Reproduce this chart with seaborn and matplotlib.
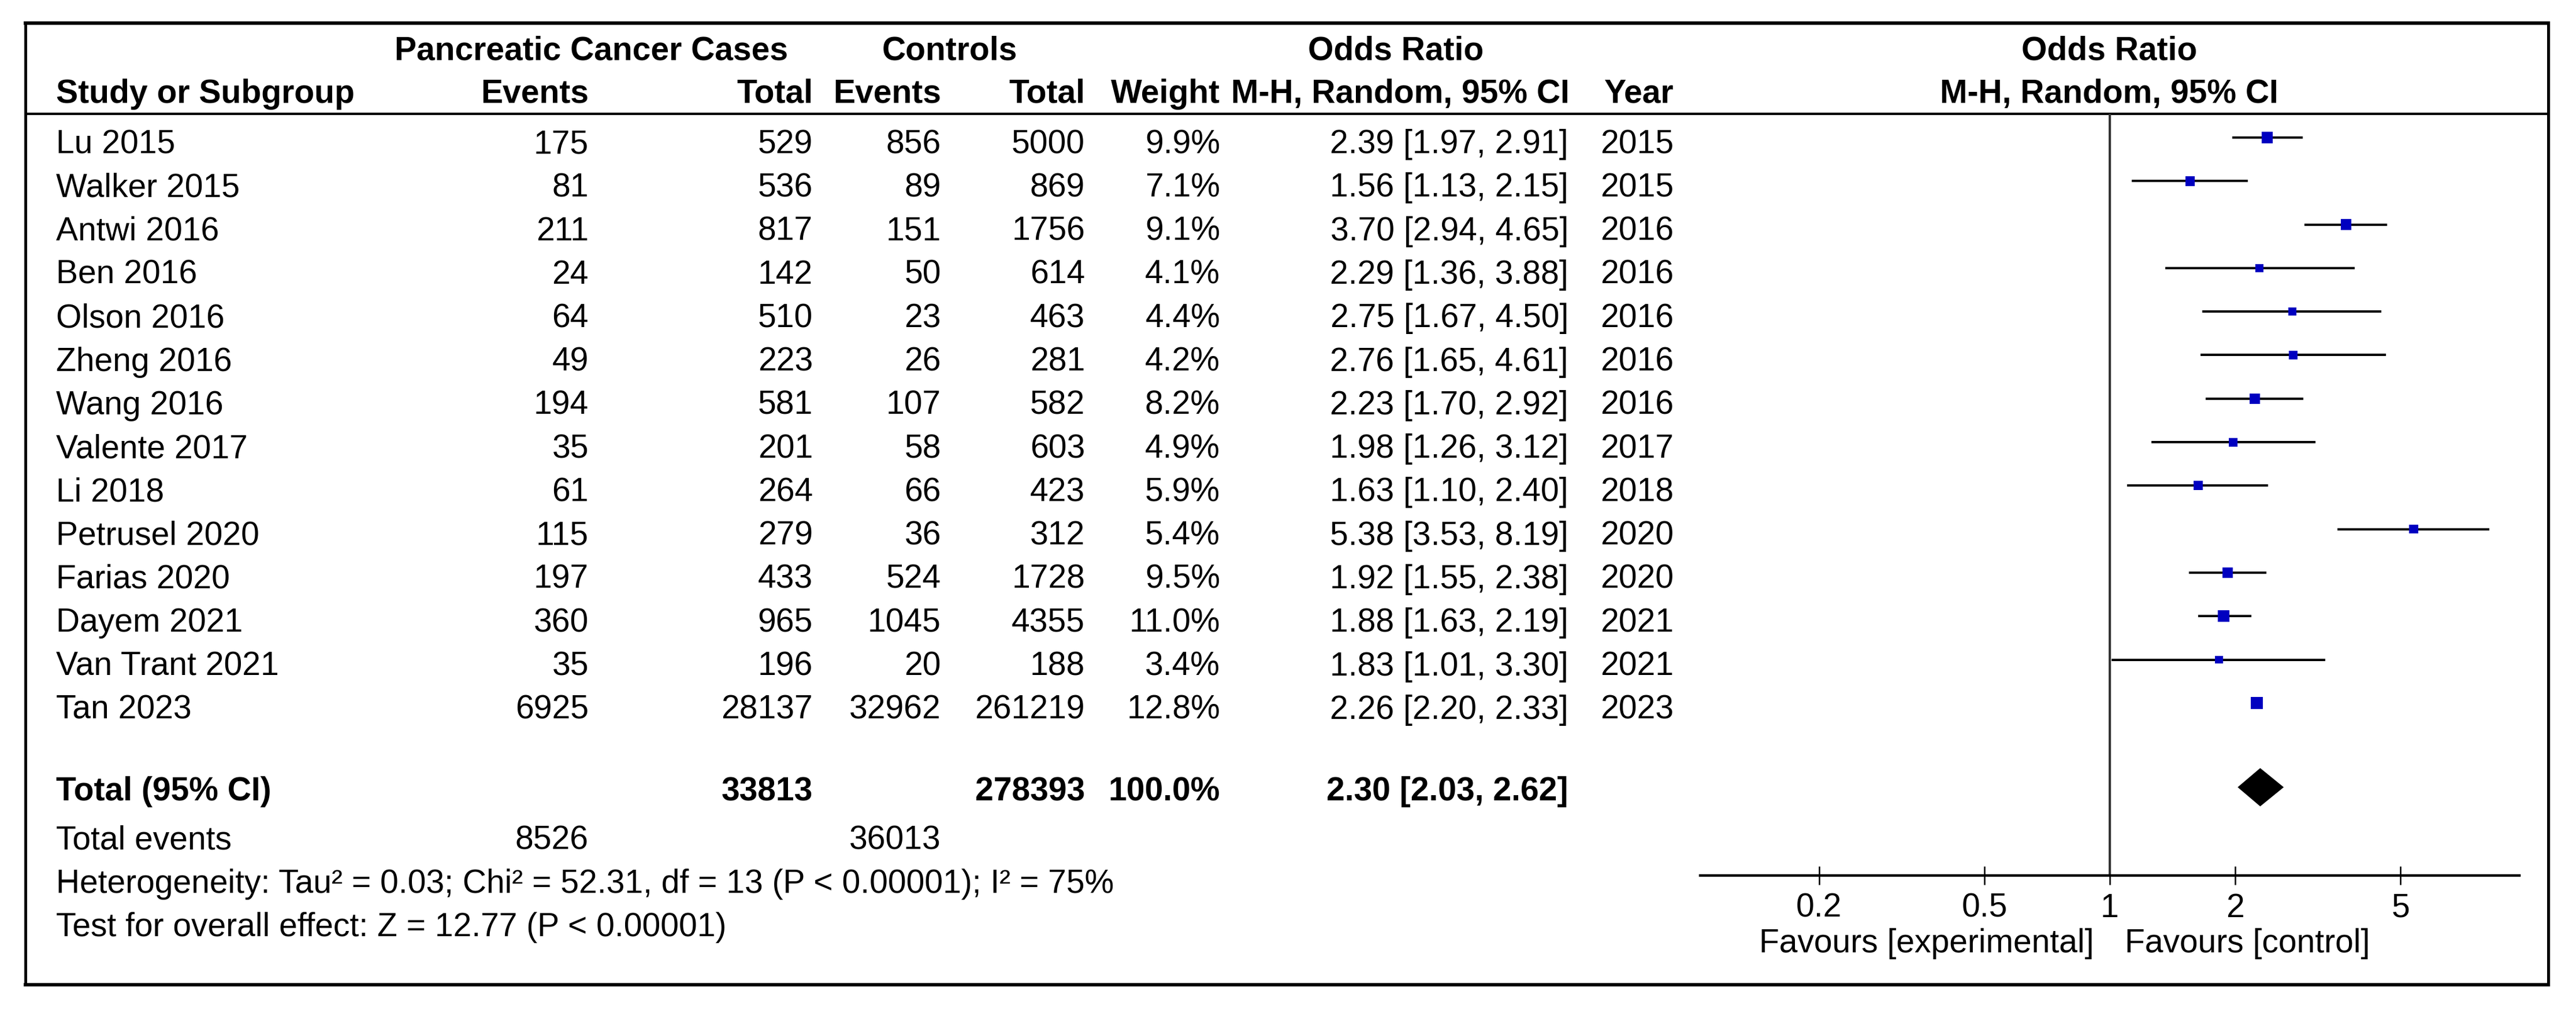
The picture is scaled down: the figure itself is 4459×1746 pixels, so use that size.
import numpy as np
import pandas as pd
import matplotlib
matplotlib.use("Agg")
import matplotlib.pyplot as plt
from matplotlib.ticker import NullLocator
import seaborn as sns

# data
studies = ["Lu 2015", "Walker 2015", "Antwi 2016", "Ben 2016", "Olson 2016", "Zheng 2016",
           "Wang 2016", "Valente 2017", "Li 2018", "Petrusel 2020", "Farias 2020",
           "Dayem 2021", "Van Trant 2021", "Tan 2023"]
case_events = [175, 81, 211, 24, 64, 49, 194, 35, 61, 115, 197, 360, 35, 6925]
case_total = [529, 536, 817, 142, 510, 223, 581, 201, 264, 279, 433, 965, 196, 28137]
ctrl_events = [856, 89, 151, 50, 23, 26, 107, 58, 66, 36, 524, 1045, 20, 32962]
ctrl_total = [5000, 869, 1756, 614, 463, 281, 582, 603, 423, 312, 1728, 4355, 188, 261219]
weight = [9.9, 7.1, 9.1, 4.1, 4.4, 4.2, 8.2, 4.9, 5.9, 5.4, 9.5, 11.0, 3.4, 12.8]
or_est = [2.39, 1.56, 3.70, 2.29, 2.75, 2.76, 2.23, 1.98, 1.63, 5.38, 1.92, 1.88, 1.83, 2.26]
or_lo = [1.97, 1.13, 2.94, 1.36, 1.67, 1.65, 1.70, 1.26, 1.10, 3.53, 1.55, 1.63, 1.01, 2.20]
or_hi = [2.91, 2.15, 4.65, 3.88, 4.50, 4.61, 2.92, 3.12, 2.40, 8.19, 2.38, 2.19, 3.30, 2.33]
years = [2015, 2015, 2016, 2016, 2016, 2016, 2016, 2017, 2018, 2020, 2020, 2021, 2021, 2023]

total_case_events = 8526
total_case_n = 33813
total_ctrl_events = 36013
total_ctrl_n = 278393
total_weight = 100.0
total_or = [2.30, 2.03, 2.62]
tick_vals = [0.2, 0.5, 1, 2, 5]
tick_labels = ["0.2", "0.5", "1", "2", "5"]
heterogeneity = "Heterogeneity: Tau\u00b2 = 0.03; Chi\u00b2 = 52.31, df = 13 (P < 0.00001); I\u00b2 = 75%"
overall = "Test for overall effect: Z = 12.77 (P < 0.00001)"

sns.set_style("white")
plt.rcParams["font.family"] = ["Liberation Sans", "DejaVu Sans"]

W, H = 4459, 1746
FS = 41
fig = plt.figure(figsize=(W / 100, H / 100), dpi=100)

# table layer in pixel coordinates
ax_t = fig.add_axes([0, 0, 1, 1])
ax_t.set_xlim(0, W)
ax_t.set_ylim(H, 0)
ax_t.axis("off")

row0, step = 238, 75.3
base_off = 27

# frame and header rule
L, R, T, B = 44, 4411, 40, 1704
ax_t.plot([L, R], [T, T], color="black", lw=4.3, solid_capstyle="projecting")
ax_t.plot([L, R], [B, B], color="black", lw=4.3, solid_capstyle="projecting")
ax_t.plot([L, L], [T, B], color="black", lw=3.6)
ax_t.plot([R, R], [T, B], color="black", lw=3.6)
ax_t.plot([L, R], [197, 197], color="black", lw=3.0)

# column right edges
x_study = 97
x_cev, x_ctot = 1019, 1407
x_kev, x_ktot = 1629, 1878
x_w, x_or, x_yr = 2112, 2715, 2897
x_plot_mid = 3651


def txt(x, y, s, ha="right", bold=False):
    ax_t.text(x, y, s, ha=ha, va="baseline", fontsize=FS,
              fontweight="bold" if bold else "normal", color="black")


# headers
txt(1024, 103, "Pancreatic Cancer Cases", ha="center", bold=True)
txt(1644, 103, "Controls", ha="center", bold=True)
txt(2416, 103, "Odds Ratio", ha="center", bold=True)
txt(x_plot_mid, 103, "Odds Ratio", ha="center", bold=True)
txt(x_study, 178, "Study or Subgroup", ha="left", bold=True)
txt(x_cev, 178, "Events", bold=True)
txt(x_ctot, 178, "Total", bold=True)
txt(x_kev, 178, "Events", bold=True)
txt(x_ktot, 178, "Total", bold=True)
txt(x_w, 178, "Weight", bold=True)
txt(x_or + 2, 178, "M-H, Random, 95% CI", bold=True)
txt(x_yr, 178, "Year", bold=True)
txt(x_plot_mid, 178, "M-H, Random, 95% CI", ha="center", bold=True)

# study rows
for i, name in enumerate(studies):
    y = row0 + step * i + base_off
    txt(x_study, y, name, ha="left")
    txt(x_cev, y, str(case_events[i]))
    txt(x_ctot, y, str(case_total[i]))
    txt(x_kev, y, str(ctrl_events[i]))
    txt(x_ktot, y, str(ctrl_total[i]))
    txt(x_w, y, f"{weight[i]:.1f}%")
    txt(x_or, y, f"{or_est[i]:.2f} [{or_lo[i]:.2f}, {or_hi[i]:.2f}]")
    txt(x_yr, y, str(years[i]))

# totals
y_tot = 1385
txt(x_study, y_tot, "Total (95% CI)", ha="left", bold=True)
txt(x_ctot, y_tot, str(total_case_n), bold=True)
txt(x_ktot, y_tot, str(total_ctrl_n), bold=True)
txt(x_w, y_tot, f"{total_weight:.1f}%", bold=True)
txt(x_or, y_tot, f"{total_or[0]:.2f} [{total_or[1]:.2f}, {total_or[2]:.2f}]", bold=True)
txt(x_study, 1470, "Total events", ha="left")
txt(x_cev, 1470, str(total_case_events))
txt(x_kev, 1470, str(total_ctrl_events))
txt(x_study, 1545, heterogeneity, ha="left")
txt(x_study, 1620, overall, ha="left")
txt(3625, 1648, "Favours [experimental]")
txt(3678, 1648, "Favours [control]", ha="left")

# forest panel
ax_left, ax_right, ax_top, ax_bot = 2943, 4361, 197, 1515
ax_f = fig.add_axes([ax_left / W, 1 - ax_bot / H, (ax_right - ax_left) / W, (ax_bot - ax_top) / H])
ax_f.set_facecolor("none")

df = pd.DataFrame({"study": studies, "row": np.arange(len(studies)), "or": or_est,
                   "lo": or_lo, "hi": or_hi, "weight": weight})

ax_f.axvline(1, color="#333333", lw=2.9, zorder=1)
ax_f.hlines(df["row"], df["lo"], df["hi"], color="black", lw=2.9, zorder=2)
sns.scatterplot(data=df, x="or", y="row", size="weight", sizes=(95, 230),
                size_norm=(3.4, 12.8), marker="s", color="#0000C0", linewidth=0,
                legend=False, ax=ax_f, zorder=3)

# pooled diamond
y_d = 14.93
ax_f.fill([total_or[1], total_or[0], total_or[2], total_or[0]],
          [y_d, y_d - 0.44, y_d, y_d + 0.44], color="black", lw=0, zorder=3)

ax_f.set_xscale("log")
ax_f.set_xlim(10 ** -0.985, 10 ** 0.985)
ax_f.set_ylim((ax_bot - row0) / step, (ax_top - row0) / step)
ax_f.set_xticks(tick_vals)
ax_f.set_xticklabels(tick_labels)
ax_f.xaxis.set_minor_locator(NullLocator())
ax_f.set_xlabel("")
ax_f.set_ylabel("")
ax_f.set_yticks([])
for side in ["top", "left", "right"]:
    ax_f.spines[side].set_visible(False)
ax_f.spines["bottom"].set_linewidth(3.2)
ax_f.spines["bottom"].set_color("black")
ax_f.tick_params(axis="x", direction="inout", length=23, width=1.8, pad=10,
                 labelsize=FS, colors="black", bottom=True)

fig.savefig("out.png", dpi=100)
